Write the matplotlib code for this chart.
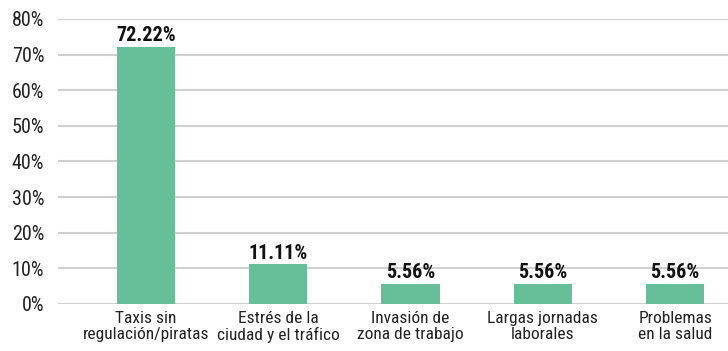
import matplotlib.pyplot as plt
from matplotlib.ticker import FuncFormatter

# categories and percentages
categories = ["Taxis sin\nregulación/piratas", "Estrés de la\nciudad y el tráfico",
              "Invasión de\nzona de trabajo", "Largas jornadas\nlaborales",
              "Problemas\nen la salud"]
values = [72.22, 11.11, 5.56, 5.56, 5.56]
labels = ["72.22%", "11.11%", "5.56%", "5.56%", "5.56%"]

plt.rcParams['font.family'] = ['Roboto Condensed', 'DejaVu Sans']

fig = plt.figure(figsize=(7.28, 3.51), dpi=100)
ax = fig.add_axes([0.0797, 0.134, 0.9203, 0.812])

x = range(len(categories))
bars = ax.bar(x, values, width=0.44, color='#66BF99', zorder=3)

# value labels above each bar
for b, lbl in zip(bars, labels):
    ax.text(b.get_x() + b.get_width() / 2, b.get_height() + 0.5, lbl,
            ha='center', va='bottom', fontsize=14.5, fontweight='bold', color='#111111')

ax.set_ylim(0, 80)
ax.set_xlim(-0.665, 4.40)
ax.set_yticks(range(0, 81, 10))
ax.yaxis.set_major_formatter(FuncFormatter(lambda v, p: f"{int(v)}%"))
ax.set_xticks(list(x))
ax.set_xticklabels(categories, fontsize=12.5, linespacing=1.12)
ax.tick_params(axis='y', labelsize=14.5, length=0, pad=10)
ax.tick_params(axis='x', length=0, pad=5)
for lab in ax.get_yticklabels() + ax.get_xticklabels():
    lab.set_color('#222222')

ax.grid(axis='y', color='#d0d0d0', linewidth=1.5, zorder=0)
for s in ax.spines.values():
    s.set_visible(False)

fig.savefig("out.png", dpi=100)
